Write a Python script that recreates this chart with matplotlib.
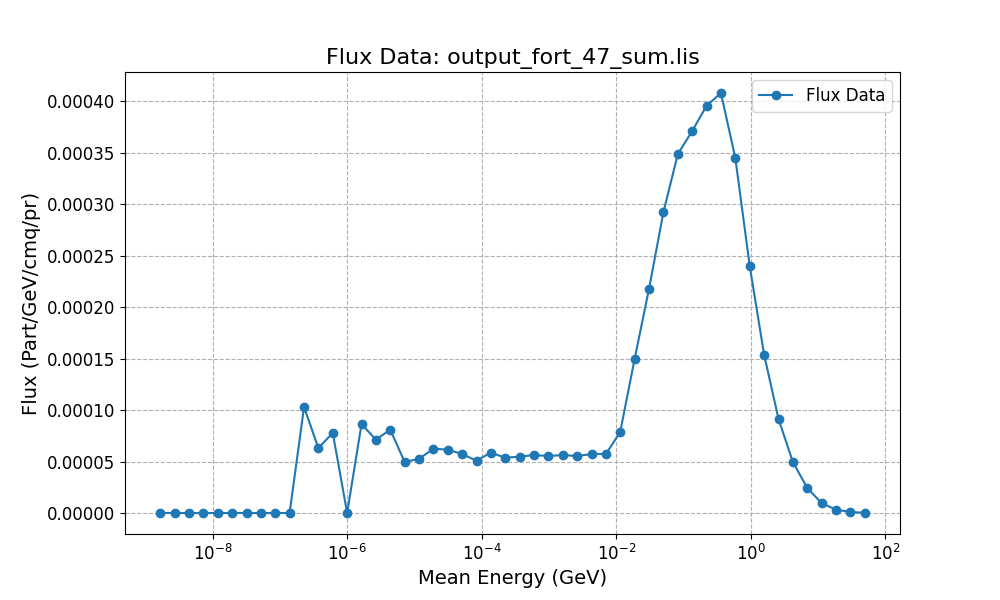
import matplotlib
matplotlib.use("Agg")
import matplotlib.pyplot as plt

energy = [1.66e-9, 2.72e-9, 4.44e-9, 7.26e-9, 1.19e-8, 1.94e-8, 3.18e-8, 5.20e-8,
          8.51e-8, 1.39e-7, 2.28e-7, 3.72e-7, 6.09e-7, 9.96e-7, 1.63e-6, 2.66e-6,
          4.36e-6, 7.13e-6, 1.17e-5, 1.91e-5, 3.12e-5, 5.10e-5, 8.34e-5, 1.36e-4,
          2.23e-4, 3.65e-4, 5.97e-4, 9.77e-4, 1.60e-3, 2.61e-3, 4.28e-3, 7.00e-3,
          1.14e-2, 1.87e-2, 3.06e-2, 5.01e-2, 8.19e-2, 0.134, 0.219, 0.358,
          0.586, 0.959, 1.57, 2.57, 4.20, 6.87, 11.2, 18.4, 30.1, 49.2]

flux = [0, 0, 0, 0, 0, 0, 0, 0, 0, 0,
        1.029e-4, 6.31e-5, 7.77e-5, 0, 8.64e-5, 7.12e-5, 8.09e-5, 4.95e-5, 5.27e-5, 6.24e-5,
        6.15e-5, 5.73e-5, 5.08e-5, 5.86e-5, 5.37e-5, 5.47e-5, 5.63e-5, 5.53e-5, 5.63e-5, 5.53e-5,
        5.73e-5, 5.73e-5, 7.86e-5, 1.498e-4, 2.178e-4, 2.922e-4, 3.485e-4, 3.709e-4, 3.954e-4, 4.078e-4,
        3.447e-4, 2.398e-4, 1.537e-4, 9.13e-5, 4.95e-5, 2.43e-5, 9.7e-6, 3.2e-6, 1.0e-6, 2e-7]

fig, ax = plt.subplots(figsize=(10, 6), dpi=100)
ax.plot(energy, flux, marker='o', linestyle='-', label='Flux Data')
ax.set_xscale('log')
ax.set_title('Flux Data: output_fort_47_sum.lis', fontsize=16)
ax.set_xlabel('Mean Energy (GeV)', fontsize=14)
ax.set_ylabel('Flux (Part/GeV/cmq/pr)', fontsize=14)
ax.tick_params(axis='both', labelsize=12)
ax.grid(True, linestyle='--')
ax.legend(fontsize=12)
fig.savefig('out.png')
